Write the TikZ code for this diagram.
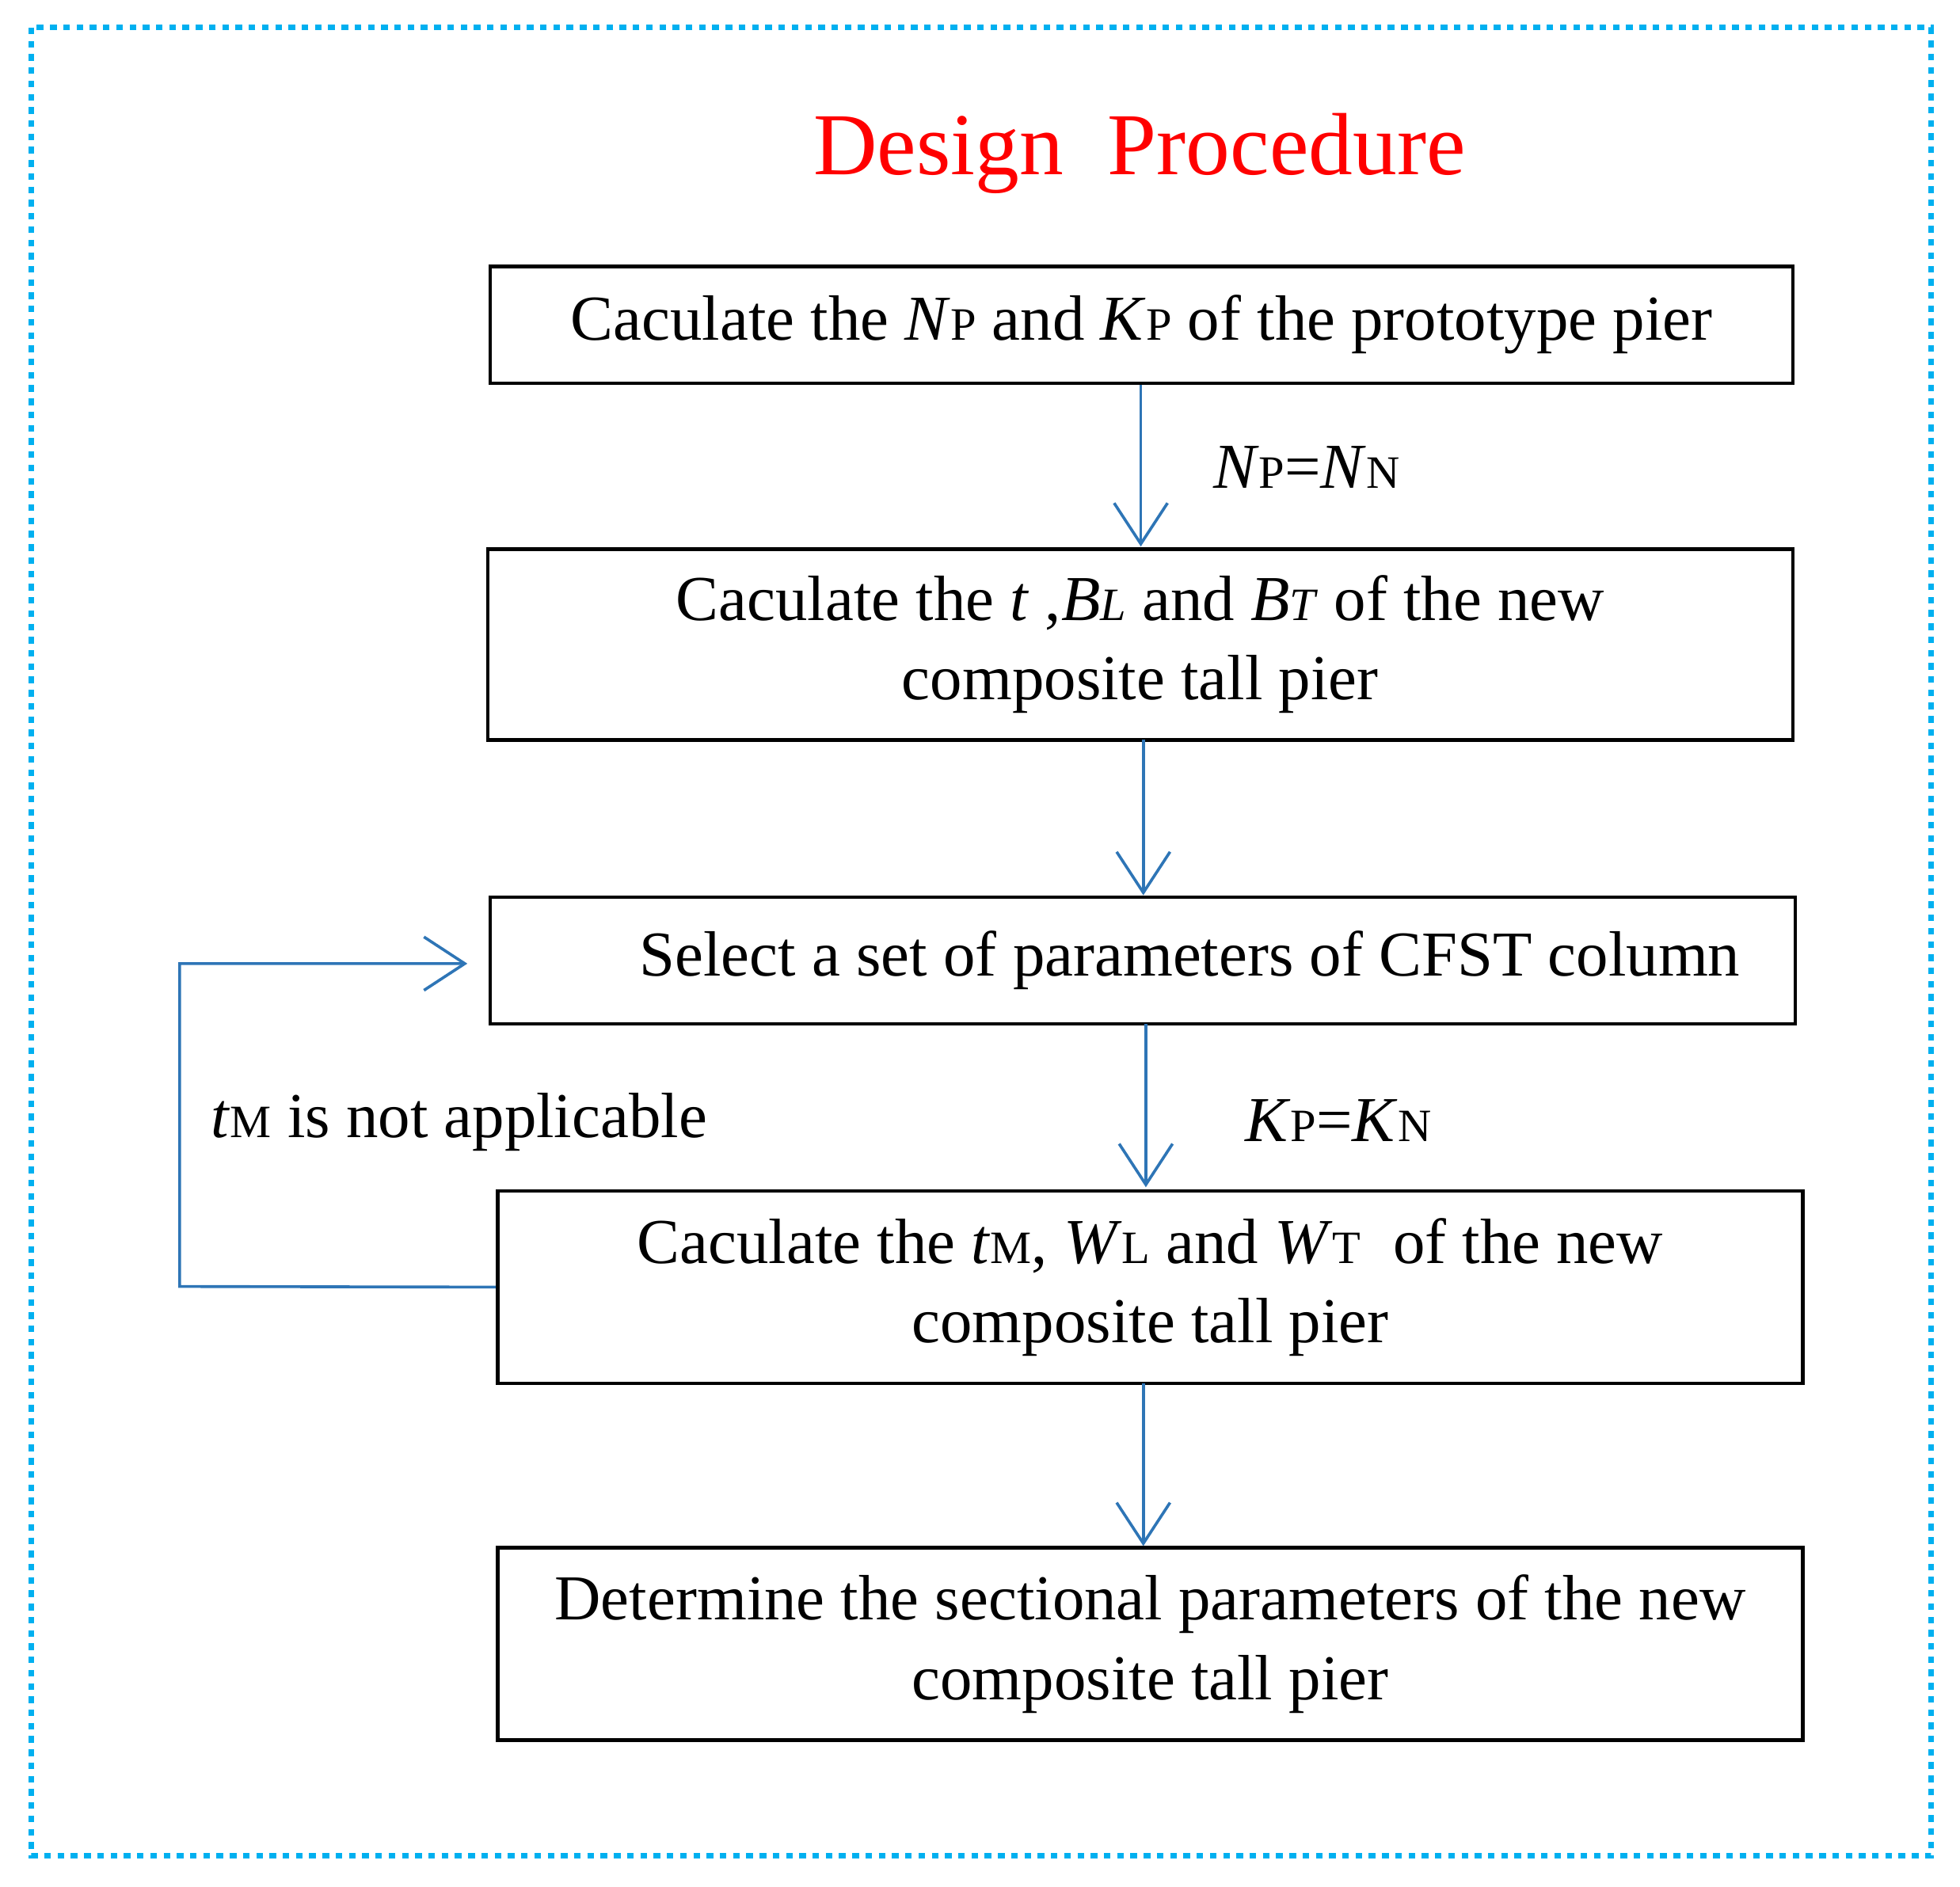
\documentclass[tikz,border=0pt]{standalone}
\usepackage{fontspec}
\setmainfont{Liberation Serif}
\usetikzlibrary{arrows.meta}
\definecolor{frame}{RGB}{0,176,240}
\definecolor{arr}{RGB}{46,117,182}
\newcommand\sm[1]{{\fontsize{21}{21}\selectfont #1}}
\begin{document}
\begin{tikzpicture}[x=0.02cm,y=-0.02cm,
  box/.style={draw,line width=1.6pt,inner sep=0pt,align=center,font=\fontsize{29}{36}\selectfont},
  lab/.style={font=\fontsize{29}{36}\selectfont},
  conn/.style={draw=arr,line width=1.3pt,-{Straight Barb[length=0.65cm,width=0.85cm,line width=1.3pt]}}]
\useasboundingbox (0,0) rectangle (1560,1502);
\draw[frame,line width=2.5pt,dash pattern=on 3pt off 3pt] (25,22) rectangle (1537,1477);
\node[text=red,font=\fontsize{40}{48}\selectfont] (title) at (907,122) {Design\ \ Procedure};
\node[box,minimum width=20.74cm,minimum height=1.86cm] (b1) at (908.5,258.5)
  {Caculate the \textit{N}\sm{P} and \textit{K}\sm{P} of the prototype pier};
\node[box,minimum width=20.78cm,minimum height=3.04cm] (b2) at (907.5,513)
  {Caculate the \textit{t} ,\textit{B}\sm{\textit{L}} and \textit{B}\sm{\textit{T}} of the new\\composite tall pier};
\node[box,minimum width=20.78cm,minimum height=2.02cm] (b3) at (909.5,764.5)
  {\hspace*{1.5cm}Select a set of parameters of CFST column};
\node[box,minimum width=20.78cm,minimum height=3.06cm] (b4) at (915.5,1024.5)
  {Caculate the \textit{t}\sm{M}, \textit{W}\sm{L} and \textit{W}\sm{T}\ \ of the new\\composite tall pier};
\node[box,minimum width=20.78cm,minimum height=3.06cm] (b5) at (915.5,1308.5)
  {Determine the sectional parameters of the new\\composite tall pier};
\draw[conn] (b1.south -| 908,0) -- (908,435);
\draw[conn] (910,589) -- (b3.north -| 910,0);
\draw[conn] (912,815) -- (912,945);
\draw[conn] (910,1101) -- (b5.north -| 910,0);
\node[lab] (l1) at (1040,372) {\textit{N}\sm{P}=\textit{N}\sm{N}};
\node[lab] (l2) at (1065,892) {\textit{K}\sm{P}=\textit{K}\sm{N}};
\node[lab,anchor=west] (l3) at (162,893) {\textit{t}\sm{M} is not applicable};
\coordinate (c1) at (143,1024);
\coordinate (c2) at (143,767);
\coordinate (c3) at (372,767);
\draw[conn] (b4.west) -- (c1) -- (c2) -- (c3);
\end{tikzpicture}
\end{document}
